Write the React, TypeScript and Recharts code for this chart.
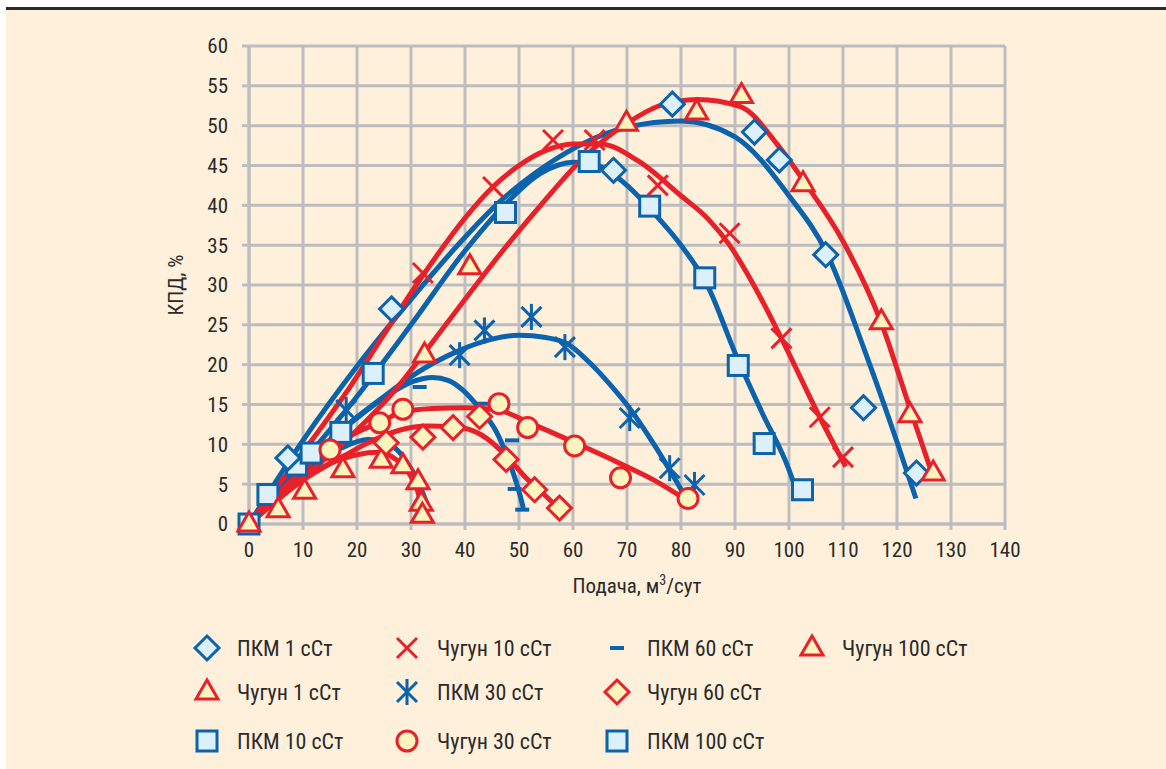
import React from "react";
import { ComposedChart, Line, Scatter, XAxis, YAxis, CartesianGrid } from "recharts";

const BLUE = "#0b63ae";
const RED = "#e8202a";
const BLUE_FILL = "#dcf0fc";
const YELLOW_FILL = "#fff4bd";
const CREAM = "#fef0db";
const GRID = "#bdbdc0";
const INK = "#2a2a2a";
const FONT = "'Liberation Sans Narrow', 'Roboto Condensed', 'Liberation Sans', sans-serif";

type Pt = { x: number; y: number };

const xTicks = [0, 10, 20, 30, 40, 50, 60, 70, 80, 90, 100, 110, 120, 130, 140];
const yTicks = [0, 5, 10, 15, 20, 25, 30, 35, 40, 45, 50, 55, 60];

// measured points
const pkm1: Pt[] = [
  { x: 7.2, y: 8.3 }, { x: 26.4, y: 27.0 }, { x: 67.5, y: 44.4 }, { x: 78.4, y: 52.7 },
  { x: 93.6, y: 49.2 }, { x: 98.2, y: 45.7 }, { x: 106.8, y: 33.8 }, { x: 113.8, y: 14.6 },
  { x: 123.6, y: 6.4 },
];
const pkm10: Pt[] = [
  { x: 0, y: 0 }, { x: 23, y: 18.9 }, { x: 47.5, y: 39.1 }, { x: 63, y: 45.5 }, { x: 74.2, y: 39.9 },
  { x: 84.4, y: 30.9 }, { x: 90.6, y: 19.9 }, { x: 95.4, y: 10.1 }, { x: 102.5, y: 4.3 },
];
const pkm30: Pt[] = [
  { x: 18, y: 14.3 }, { x: 39, y: 21.2 }, { x: 43.6, y: 24.3 }, { x: 52.3, y: 26.0 },
  { x: 58.5, y: 22.2 }, { x: 70.5, y: 13.3 }, { x: 77.9, y: 7.0 }, { x: 82.5, y: 4.9 },
];
const pkm60: Pt[] = [
  { x: 31.6, y: 17.2 }, { x: 43.3, y: 15.1 }, { x: 48.7, y: 10.5 }, { x: 49.2, y: 4.4 }, { x: 50.6, y: 1.8 },
];
const pkm100: Pt[] = [
  { x: 3.5, y: 3.7 }, { x: 8.8, y: 7.4 }, { x: 11.5, y: 8.9 }, { x: 17, y: 11.5 },
];
const chug1: Pt[] = [
  { x: 0, y: 0 }, { x: 5.4, y: 1.8 }, { x: 10.3, y: 4.1 }, { x: 17.4, y: 6.8 }, { x: 24.5, y: 8.0 },
  { x: 28.5, y: 7.3 }, { x: 31.3, y: 5.3 }, { x: 31.9, y: 2.6 }, { x: 32.1, y: 1.1 },
];
const chug10: Pt[] = [
  { x: 32.2, y: 31.5 }, { x: 45.2, y: 42.3 }, { x: 56.3, y: 48.2 }, { x: 64, y: 48.2 },
  { x: 75.7, y: 42.5 }, { x: 89, y: 36.5 }, { x: 98.6, y: 23.3 }, { x: 105.7, y: 13.4 }, { x: 110, y: 8.4 },
];
const chug30: Pt[] = [
  { x: 15, y: 9.3 }, { x: 24.2, y: 12.7 }, { x: 28.5, y: 14.4 }, { x: 46.3, y: 15.1 },
  { x: 51.6, y: 12.1 }, { x: 60.3, y: 9.8 }, { x: 68.8, y: 5.8 }, { x: 81.3, y: 3.2 },
];
const chug60: Pt[] = [
  { x: 25.4, y: 10.2 }, { x: 32.2, y: 10.9 }, { x: 37.8, y: 12.1 }, { x: 42.7, y: 13.5 },
  { x: 47.6, y: 8.1 }, { x: 52.9, y: 4.3 }, { x: 57.5, y: 2.0 },
];
const chug100: Pt[] = [
  { x: 32.5, y: 21.2 }, { x: 40.9, y: 32.3 }, { x: 69.9, y: 50.3 }, { x: 82.9, y: 51.7 },
  { x: 91.2, y: 53.8 }, { x: 102.6, y: 42.7 }, { x: 117.1, y: 25.4 }, { x: 122.4, y: 13.7 }, { x: 126.7, y: 6.4 },
];

// trend curves
const pkm1Fit: Pt[] = [
  { x: 0, y: 0 }, { x: 10, y: 10.5 }, { x: 20, y: 19.8 }, { x: 30, y: 28.2 }, { x: 40, y: 36 },
  { x: 47, y: 40.8 }, { x: 55, y: 45 }, { x: 62, y: 47.8 }, { x: 70, y: 49.8 }, { x: 80, y: 50.6 },
  { x: 90, y: 48.6 }, { x: 100, y: 41.2 }, { x: 107, y: 34 }, { x: 114, y: 21.8 }, { x: 120, y: 10.3 },
  { x: 123.5, y: 3.2 },
];
const pkm10Fit: Pt[] = [
  { x: 0, y: 0 }, { x: 10, y: 7.8 }, { x: 20, y: 16 }, { x: 30, y: 25 }, { x: 40, y: 34.3 },
  { x: 47, y: 39.8 }, { x: 54, y: 44 }, { x: 60, y: 45.4 }, { x: 65, y: 44.9 }, { x: 70, y: 42.5 },
  { x: 75, y: 39 }, { x: 80, y: 35 }, { x: 85, y: 29.8 }, { x: 90, y: 21.5 }, { x: 95, y: 14 },
  { x: 100, y: 6.8 }, { x: 101.8, y: 3.3 },
];
const pkm30Fit: Pt[] = [
  { x: 0, y: 0 }, { x: 10, y: 7 }, { x: 18, y: 12.3 }, { x: 25, y: 16 }, { x: 30, y: 18.5 },
  { x: 39, y: 21.8 }, { x: 45, y: 23.2 }, { x: 50, y: 23.7 }, { x: 55, y: 23.4 }, { x: 59, y: 22.6 },
  { x: 63, y: 20.3 }, { x: 67, y: 17.4 }, { x: 70.5, y: 14.5 }, { x: 75, y: 10 }, { x: 80.4, y: 3.9 },
];
const pkm60Fit: Pt[] = [
  { x: 0, y: 0 }, { x: 10, y: 7.5 }, { x: 20, y: 13.3 }, { x: 26, y: 16.3 }, { x: 30.4, y: 17.9 },
  { x: 34, y: 18.4 }, { x: 37, y: 18 }, { x: 39.6, y: 16.8 }, { x: 42.7, y: 14.5 }, { x: 45.8, y: 11.6 },
  { x: 48.3, y: 7.6 }, { x: 50.2, y: 3.6 }, { x: 50.8, y: 2 },
];
const pkm100Fit: Pt[] = [
  { x: 0, y: 0 }, { x: 10, y: 6.5 }, { x: 17, y: 9.5 }, { x: 22, y: 10.6 }, { x: 26, y: 10 },
  { x: 29, y: 8 }, { x: 31.5, y: 5 }, { x: 33, y: 2.5 },
];
const chug1Fit: Pt[] = [
  { x: 0, y: 0 }, { x: 5, y: 3.2 }, { x: 10, y: 5.8 }, { x: 15, y: 7.6 }, { x: 20, y: 8.7 },
  { x: 24, y: 9 }, { x: 27, y: 8.2 }, { x: 29.5, y: 6.5 }, { x: 31.2, y: 4.2 }, { x: 32.3, y: 1.2 },
];
const chug10Fit: Pt[] = [
  { x: 0, y: 0 }, { x: 10, y: 9 }, { x: 19, y: 17.5 }, { x: 25, y: 23.8 }, { x: 32, y: 31 },
  { x: 40, y: 38.4 }, { x: 45, y: 42.2 }, { x: 50, y: 45 }, { x: 55, y: 46.9 }, { x: 60, y: 47.7 },
  { x: 65, y: 47.7 }, { x: 72, y: 45.6 }, { x: 80, y: 41.2 }, { x: 85, y: 38.3 }, { x: 89, y: 35 },
  { x: 93.3, y: 30.2 }, { x: 98.6, y: 23.3 }, { x: 105.7, y: 13.4 }, { x: 110.5, y: 7.2 },
];
const chug30Fit: Pt[] = [
  { x: 0, y: 0 }, { x: 10, y: 6.8 }, { x: 15, y: 9.4 }, { x: 20, y: 11.5 }, { x: 25, y: 13 },
  { x: 28, y: 14 }, { x: 34, y: 14.5 }, { x: 40, y: 14.6 }, { x: 46, y: 14.3 }, { x: 52.6, y: 12.5 },
  { x: 61, y: 10 }, { x: 68.7, y: 7.6 }, { x: 75, y: 5.5 }, { x: 81, y: 3 },
];
const chug60Fit: Pt[] = [
  { x: 0, y: 0 }, { x: 10, y: 5.5 }, { x: 18, y: 8.7 }, { x: 23, y: 10.5 }, { x: 28, y: 11.8 },
  { x: 33, y: 12.3 }, { x: 38, y: 12.2 }, { x: 43, y: 11.2 }, { x: 48, y: 8.3 }, { x: 51, y: 6 },
  { x: 54.5, y: 3.8 }, { x: 58.5, y: 1.2 },
];
const chug100Fit: Pt[] = [
  { x: 0, y: 0 }, { x: 10, y: 5.8 }, { x: 20, y: 11.8 }, { x: 27.3, y: 17 }, { x: 32.5, y: 21.5 },
  { x: 39, y: 27.3 }, { x: 46.4, y: 33.8 }, { x: 54, y: 40 }, { x: 62, y: 46 }, { x: 70, y: 50.3 },
  { x: 76, y: 52.5 }, { x: 83, y: 53.3 }, { x: 91, y: 52.4 }, { x: 98, y: 47.5 }, { x: 103, y: 42.8 },
  { x: 110, y: 35.5 }, { x: 117, y: 25.4 }, { x: 122.4, y: 14.5 }, { x: 126.5, y: 6.3 },
];

// marker shapes
const Diamond = ({ cx, cy, fill = BLUE_FILL, stroke = BLUE }: any) => (
  <polygon
    points={`${cx},${cy - 12} ${cx + 12},${cy} ${cx},${cy + 12} ${cx - 12},${cy}`}
    fill={fill}
    stroke={stroke}
    strokeWidth={3}
  />
);
const Square = ({ cx, cy }: any) => (
  <rect x={cx - 10} y={cy - 10} width={20} height={20} fill={BLUE_FILL} stroke={BLUE} strokeWidth={3} />
);
const Triangle = ({ cx, cy }: any) => (
  <polygon
    points={`${cx},${cy - 12} ${cx + 11},${cy + 7} ${cx - 11},${cy + 7}`}
    fill={YELLOW_FILL}
    stroke={RED}
    strokeWidth={3}
  />
);
const Circle = ({ cx, cy }: any) => (
  <circle cx={cx} cy={cy} r={10} fill={YELLOW_FILL} stroke={RED} strokeWidth={3} />
);
const Cross = ({ cx, cy }: any) => (
  <g stroke={RED} strokeWidth={3}>
    <line x1={cx - 10} y1={cy - 10} x2={cx + 10} y2={cy + 10} />
    <line x1={cx - 10} y1={cy + 10} x2={cx + 10} y2={cy - 10} />
  </g>
);
const Star = ({ cx, cy }: any) => (
  <g stroke={BLUE} strokeWidth={3}>
    <line x1={cx} y1={cy - 13} x2={cx} y2={cy + 13} />
    <line x1={cx - 10} y1={cy - 10} x2={cx + 10} y2={cy + 10} />
    <line x1={cx - 10} y1={cy + 10} x2={cx + 10} y2={cy - 10} />
  </g>
);
const Dash = ({ cx, cy }: any) => (
  <line x1={cx - 7} y1={cy} x2={cx + 7} y2={cy} stroke={BLUE} strokeWidth={4} />
);
const YDiamond = (p: any) => <Diamond {...p} fill={YELLOW_FILL} stroke={RED} />;

const legendItems = [
  { name: "ПКМ 1 сСт", Icon: Diamond, col: 0, row: 0 },
  { name: "Чугун 1 сСт", Icon: Triangle, col: 0, row: 1 },
  { name: "ПКМ 10 сСт", Icon: Square, col: 0, row: 2 },
  { name: "Чугун 10 сСт", Icon: Cross, col: 1, row: 0 },
  { name: "ПКМ 30 сСт", Icon: Star, col: 1, row: 1 },
  { name: "Чугун 30 сСт", Icon: Circle, col: 1, row: 2 },
  { name: "ПКМ 60 сСт", Icon: Dash, col: 2, row: 0 },
  { name: "Чугун 60 сСт", Icon: YDiamond, col: 2, row: 1 },
  { name: "ПКМ 100 сСт", Icon: Square, col: 2, row: 2 },
  { name: "Чугун 100 сСт", Icon: Triangle, col: 3, row: 0 },
];
const legendCols = [207, 407, 617, 812];
const legendRows = [648, 692, 741];

const YLabel = ({ viewBox }: any) => {
  const x = viewBox.x + 176;
  const y = viewBox.y + viewBox.height / 2;
  return (
    <text x={x} y={y} transform={`rotate(-90 ${x} ${y})`} textAnchor="middle" dominantBaseline="central"
      fontSize={21} fill={INK} fontFamily={FONT}>
      КПД, %
    </text>
  );
};
const XLabel = ({ viewBox }: any) => (
  <text x={viewBox.x + viewBox.width / 2 + 10} y={viewBox.y + 69} textAnchor="middle" fontSize={21} fill={INK}
    fontFamily={FONT}>
    Подача, м<tspan dy={-8} fontSize={14}>3</tspan><tspan dy={8}>/сут</tspan>
  </text>
);

const tickStyle = { fill: INK, fontSize: 21, fontFamily: FONT };

export default function App() {
  const line = (data: Pt[], color: string, key: string) => (
    <Line key={key} data={data} dataKey="y" type="monotone" stroke={color} strokeWidth={5} dot={false}
      activeDot={false} isAnimationActive={false} />
  );
  return (
    <div style={{ position: "relative", width: 1166, height: 769, background: "#fff", fontFamily: FONT, overflow: "hidden" }}>
      <style>{`body{margin:0}`}</style>
      <div style={{ position: "absolute", left: 6, top: 7, right: 0, height: 3, background: "#2b2b2b" }} />
      <div style={{ position: "absolute", left: 6, top: 10, right: 0, bottom: 0, background: CREAM }} />
      <div style={{ position: "absolute", left: 0, top: 0 }}>
        <ComposedChart width={1166} height={769} margin={{ top: 46, right: 161, left: 0, bottom: 160 }}>
          <CartesianGrid stroke={GRID} strokeWidth={3} />
          <XAxis type="number" dataKey="x" domain={[0, 140]} ticks={xTicks} interval={0} height={85}
            stroke={GRID} strokeWidth={3} tickSize={6} tickMargin={12} tick={tickStyle}
            tickLine={{ stroke: GRID, strokeWidth: 3 }} label={<XLabel />} />
          <YAxis type="number" dataKey="y" domain={[0, 60]} ticks={yTicks} interval={0} width={249}
            stroke={GRID} strokeWidth={3} tickSize={7} tickMargin={14} tick={tickStyle}
            tickLine={{ stroke: GRID, strokeWidth: 3 }} label={<YLabel />} />
          {line(pkm1Fit, BLUE, "l1")}
          {line(pkm10Fit, BLUE, "l10")}
          {line(pkm30Fit, BLUE, "l30")}
          {line(pkm60Fit, BLUE, "l60")}
          {line(pkm100Fit, BLUE, "l100")}
          <Scatter data={pkm10} shape={Square} isAnimationActive={false} />
          <Scatter data={pkm100} shape={Square} isAnimationActive={false} />
          <Scatter data={pkm1} shape={Diamond} isAnimationActive={false} />
          <Scatter data={pkm30} shape={Star} isAnimationActive={false} />
          <Scatter data={pkm60} shape={Dash} isAnimationActive={false} />
          {line(chug1Fit, RED, "c1")}
          {line(chug10Fit, RED, "c10")}
          {line(chug30Fit, RED, "c30")}
          {line(chug60Fit, RED, "c60")}
          {line(chug100Fit, RED, "c100")}
          <Scatter data={chug1} shape={Triangle} isAnimationActive={false} />
          <Scatter data={chug10} shape={Cross} isAnimationActive={false} />
          <Scatter data={chug30} shape={Circle} isAnimationActive={false} />
          <Scatter data={chug60} shape={YDiamond} isAnimationActive={false} />
          <Scatter data={chug100} shape={Triangle} isAnimationActive={false} />
        </ComposedChart>
      </div>
      {legendItems.map(({ name, Icon, col, row }) => (
        <div key={name} style={{ position: "absolute", left: legendCols[col] - 16, top: legendRows[row] - 16,
          height: 32, display: "flex", alignItems: "center", whiteSpace: "nowrap" }}>
          <svg width={32} height={32}>
            <Icon cx={16} cy={16} />
          </svg>
          <span style={{ marginLeft: 14, fontSize: 22, color: INK }}>{name}</span>
        </div>
      ))}
    </div>
  );
}
